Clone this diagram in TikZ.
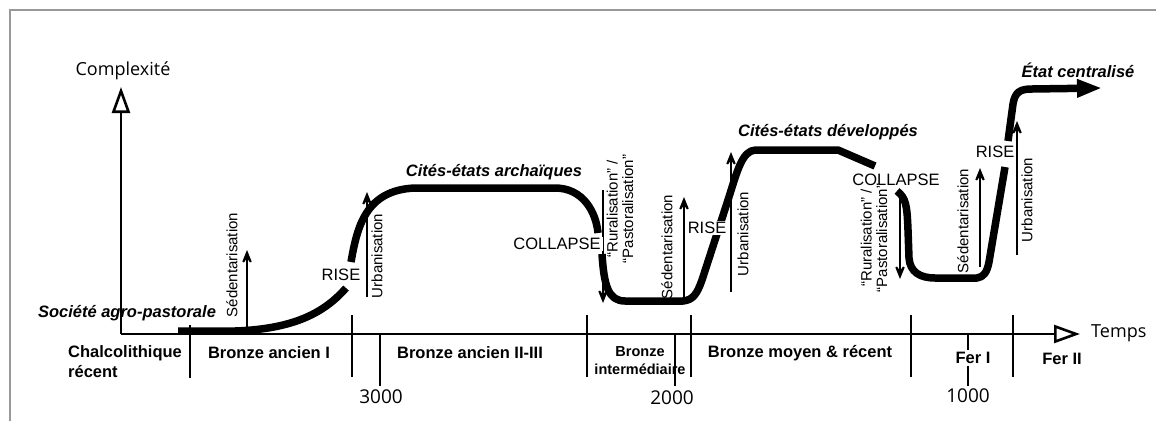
\documentclass[tikz,border=0pt]{standalone}
\usepackage{fontspec}
\setmainfont{Liberation Sans}
\newfontfamily\axfont{Open Sans}
\usetikzlibrary{arrows.meta}
\begin{document}
\begin{tikzpicture}[x=1pt,y=-1pt,
 curve/.style={line width=7.5pt, line join=round},
 thinline/.style={line width=2.3pt},
 uparrow/.style={thinline, -{Stealth[length=21pt,width=17pt,inset=13pt]}},
 axisline/.style={line width=2.6pt, -{Triangle[open,length=26pt,width=18pt,fill=white]}},
 tickline/.style={line width=2.4pt},
 period/.style={font=\fontsize{16.5}{20}\selectfont\bfseries, align=center, inner sep=0pt},
 event/.style={font=\fontsize{16.5}{19}\selectfont, fill=white, inner sep=1pt},
 rotlab/.style={font=\fontsize{15}{15.5}\selectfont, rotate=90, inner sep=0pt, align=center},
 era/.style={font=\fontsize{16.5}{19}\selectfont\bfseries\itshape, inner sep=0pt},
 axlab/.style={font=\axfont\fontsize{18}{21}\selectfont, inner sep=0pt},
 date/.style={font=\axfont\fontsize{19}{21}\selectfont, inner sep=0pt},
]
\useasboundingbox (0,0) rectangle (1156,421);
% frame
\draw[line width=1.5pt, black!40] (10,421) -- (10,10) -- (1156,10);

% axes
\coordinate (O) at (121,334);
\coordinate (Ytip) at (121,87);
\coordinate (Xtip) at (1080,334);
\draw[axisline] (O) -- (Ytip);
\draw[axisline] (O) -- (Xtip);
\node[axlab, anchor=south] (ylab) at (123,80) {Complexité};
\node[axlab, anchor=west] (xlab) at (1091,333) {Temps};

% ticks
\foreach \n/\x/\a/\b in {t1/190/325/378, t2/352/315/377, t3/587/315/377, t4/691/315/377, t5/911/315/377, t6/1013/315/377}{
  \coordinate (\n a) at (\x,\a); \coordinate (\n b) at (\x,\b);
  \draw[tickline] (\n a) -- (\n b);
}
\foreach \n/\x in {d3000/380, d2000/675, d1000/968}{
  \coordinate (\n a) at (\x,334); \coordinate (\n b) at (\x,386);
  \draw[tickline] (\n a) -- (\n b);
}
\node[date] (n3000) at (381,397) {3000};
\node[date] (n2000) at (672,398) {2000};
\node[date] (n1000) at (968,396) {1000};

% periods
\node[period, align=left, anchor=west] (chal) at (68,362) {Chalcolithique\\récent};
\node[period] (ba1) at (269,353) {Bronze ancien I};
\node[period] (ba23) at (470,353) {Bronze ancien II-III};
\node[period, font=\fontsize{14.5}{18}\selectfont\bfseries] (bint) at (640,361) {Bronze\\intermédiaire};
\node[period] (bmr) at (800,353) {Bronze moyen \& récent};
\node[period, fill=white, inner sep=2pt] (fer1) at (973,358) {Fer I};
\node[period] (fer2) at (1062,359) {Fer II};

% collapse arrows
\coordinate (c1a) at (603,190); \coordinate (c1b) at (603,303);
\coordinate (c2a) at (900,190); \coordinate (c2b) at (900,279);
\draw[uparrow] (c1a) -- (c1b);
\draw[uparrow] (c2a) -- (c2b);

% main curve
\draw[curve] (178,331) -- (235,331) .. controls (295,329) and (325,312) .. (346,288);
\draw[curve] (351,262) .. controls (357,228) and (365,190) .. (415,188) -- (555,188)
  .. controls (583,188) and (596,212) .. (598,233);
\draw[curve] (602,254) .. controls (604,285) and (608,301) .. (625,301) -- (683,301)
  .. controls (693,300) and (697,294) .. (702,280) -- (728,200)
  .. controls (737,172) and (742,150) .. (756,150) -- (838,150) -- (875,166);
\draw[curve] (897,191) .. controls (906,198) and (907,205) .. (908,230) -- (909,258)
  .. controls (910,272) and (920,278) .. (935,278) -- (977,278)
  .. controls (984,277) and (987,272) .. (989,262) -- (1005,167);
\draw[curve, -{Triangle[length=25pt,width=17pt]}] (1008,141) -- (1013,104)
  .. controls (1015,92) and (1020,89) .. (1032,89) -- (1102,88);

% event labels
\node[event] (rise1) at (341,275) {RISE};
\node[event] (rise2) at (707,228) {RISE};
\node[event] (rise3) at (995,152) {RISE};
\node[event, inner xsep=2pt] (col1) at (557,244) {COLLAPSE};
\node[event] (col2) at (896,180) {COLLAPSE};

% rotated labels
\node[rotlab] (sed1) at (232,265) {Sédentarisation};
\node[rotlab] (urb1) at (377,256) {Urbanisation};
\node[rotlab] (rur1) at (620,209) {“Ruralisation” /\\“Pastoralisation”};
\node[rotlab] (sed2) at (667,247) {Sédentarisation};
\node[rotlab] (urb2) at (743,234) {Urbanisation};
\node[rotlab] (rur2) at (874,238) {“Ruralisation” /\\“Pastoralisation”};
\node[rotlab] (sed3) at (963,221) {Sédentarisation};
\node[rotlab] (urb3) at (1027,200) {Urbanisation};

% up arrows
\coordinate (s1a) at (247,331); \coordinate (s1b) at (247,250);
\coordinate (u1a) at (367,297); \coordinate (u1b) at (367,192);
\coordinate (s2a) at (684,300); \coordinate (s2b) at (684,197);
\coordinate (u2a) at (731,292); \coordinate (u2b) at (731,152);
\coordinate (s3a) at (980,267); \coordinate (s3b) at (980,168);
\coordinate (u3a) at (1017,255); \coordinate (u3b) at (1017,121);
\draw[uparrow] (s1a) -- (s1b);
\draw[uparrow] (u1a) -- (u1b);
\draw[uparrow] (s2a) -- (s2b);
\draw[uparrow] (u2a) -- (u2b);
\draw[uparrow] (s3a) -- (s3b);
\draw[uparrow] (u3a) -- (u3b);

% era labels
\node[era] (agro) at (127,313) {Société agro-pastorale};
\node[era] (arch) at (494,172) {Cités-états archaïques};
\node[era] (dev) at (828,132) {Cités-états développés};
\node[era] (etat) at (1078,70) {État centralisé};
\end{tikzpicture}
\end{document}
